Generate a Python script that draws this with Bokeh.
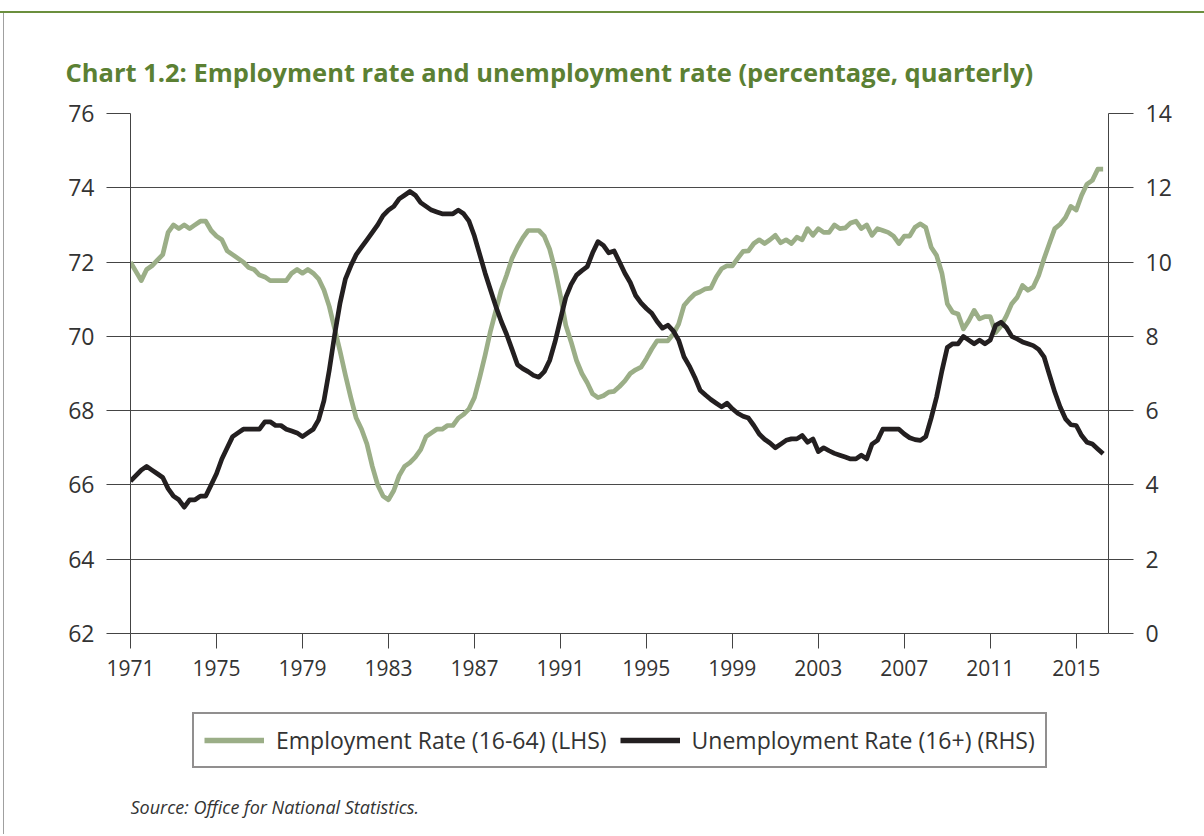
from bokeh.plotting import figure
from bokeh.layouts import column
from bokeh.models import (LinearAxis, Range1d, FixedTicker, Legend, LegendItem,
                          Label, ColumnDataSource)
from bokeh.embed import file_html
from bokeh.resources import INLINE

# ---------------- data (quarterly, 1971 Q1 onwards) ----------------
employment_rate = [
    72.0, 71.75, 71.5, 71.8,      # 1971
    71.9, 72.05, 72.2, 72.8,      # 1972
    73.0, 72.9, 73.0, 72.9,       # 1973
    73.0, 73.1, 73.1, 72.85,      # 1974
    72.7, 72.6, 72.3, 72.2,       # 1975
    72.1, 72.0, 71.85, 71.8,      # 1976
    71.65, 71.6, 71.5, 71.5,      # 1977
    71.5, 71.5, 71.7, 71.8,       # 1978
    71.7, 71.8, 71.7, 71.55,      # 1979
    71.25, 70.8, 70.2, 69.6,      # 1980
    68.95, 68.35, 67.8, 67.5,     # 1981
    67.1, 66.5, 66.0, 65.7,       # 1982
    65.6, 65.85, 66.25, 66.5,     # 1983
    66.6, 66.75, 66.95, 67.3,     # 1984
    67.4, 67.5, 67.5, 67.6,       # 1985
    67.6, 67.8, 67.9, 68.05,      # 1986
    68.35, 68.9, 69.5, 70.15,     # 1987
    70.7, 71.25, 71.65, 72.1,     # 1988
    72.4, 72.65, 72.85, 72.85,    # 1989
    72.85, 72.7, 72.35, 71.8,     # 1990
    71.1, 70.3, 69.85, 69.35,     # 1991
    69.0, 68.75, 68.45, 68.35,    # 1992
    68.4, 68.5, 68.52, 68.65,     # 1993
    68.8, 69.0, 69.1, 69.17,      # 1994
    69.4, 69.66, 69.88, 69.88,    # 1995
    69.88, 70.06, 70.33, 70.83,   # 1996
    71.0, 71.14, 71.2, 71.28,     # 1997
    71.3, 71.6, 71.82, 71.9,      # 1998
    71.9, 72.1, 72.29, 72.3,      # 1999
    72.5, 72.6, 72.5, 72.6,       # 2000
    72.72, 72.52, 72.6, 72.5,     # 2001
    72.67, 72.6, 72.9, 72.72,     # 2002
    72.9, 72.8, 72.8, 73.0,       # 2003
    72.9, 72.92, 73.05, 73.1,     # 2004
    72.9, 73.0, 72.72, 72.9,      # 2005
    72.85, 72.8, 72.7, 72.5,      # 2006
    72.7, 72.7, 72.94, 73.03,     # 2007
    72.93, 72.4, 72.18, 71.7,     # 2008
    70.88, 70.65, 70.6, 70.2,     # 2009
    70.42, 70.7, 70.47, 70.53,    # 2010
    70.53, 70.1, 70.28, 70.55,    # 2011
    70.88, 71.05, 71.37, 71.24,   # 2012
    71.33, 71.64, 72.09, 72.5,    # 2013
    72.9, 73.02, 73.2, 73.5,      # 2014
    73.4, 73.8, 74.1, 74.2,       # 2015
    74.5, 74.5,                   # 2016
]

unemployment_rate = [
    4.1, 4.25, 4.4, 4.5,          # 1971
    4.4, 4.3, 4.2, 3.9,           # 1972
    3.7, 3.6, 3.4, 3.6,           # 1973
    3.6, 3.7, 3.7, 4.0,           # 1974
    4.3, 4.7, 5.0, 5.3,           # 1975
    5.4, 5.5, 5.5, 5.5,           # 1976
    5.5, 5.7, 5.7, 5.6,           # 1977
    5.6, 5.5, 5.45, 5.4,          # 1978
    5.3, 5.4, 5.5, 5.75,          # 1979
    6.27, 7.1, 8.05, 8.9,         # 1980
    9.55, 9.9, 10.2, 10.4,        # 1981
    10.6, 10.8, 11.0, 11.25,      # 1982
    11.4, 11.5, 11.7, 11.8,       # 1983
    11.9, 11.8, 11.6, 11.5,       # 1984
    11.4, 11.35, 11.3, 11.3,      # 1985
    11.3, 11.4, 11.3, 11.1,       # 1986
    10.7, 10.2, 9.7, 9.25,        # 1987
    8.8, 8.4, 8.05, 7.65,         # 1988
    7.24, 7.13, 7.05, 6.95,       # 1989
    6.9, 7.05, 7.35, 7.85,        # 1990
    8.45, 9.05, 9.4, 9.65,        # 1991
    9.77, 9.88, 10.25, 10.55,     # 1992
    10.45, 10.25, 10.3, 10.0,     # 1993
    9.7, 9.45, 9.1, 8.9,          # 1994
    8.75, 8.62, 8.4, 8.22,        # 1995
    8.3, 8.15, 7.9, 7.45,         # 1996
    7.2, 6.9, 6.55, 6.42,         # 1997
    6.3, 6.2, 6.1, 6.2,           # 1998
    6.05, 5.93, 5.85, 5.8,        # 1999
    5.6, 5.37, 5.23, 5.13,        # 2000
    5.0, 5.1, 5.2, 5.24,          # 2001
    5.24, 5.33, 5.15, 5.24,       # 2002
    4.9, 5.0, 4.92, 4.85,         # 2003
    4.8, 4.75, 4.7, 4.7,          # 2004
    4.8, 4.7, 5.1, 5.2,           # 2005
    5.5, 5.5, 5.5, 5.5,           # 2006
    5.37, 5.27, 5.22, 5.2,        # 2007
    5.3, 5.8, 6.36, 7.07,         # 2008
    7.7, 7.8, 7.8, 8.0,           # 2009
    7.9, 7.8, 7.9, 7.8,           # 2010
    7.9, 8.3, 8.38, 8.24,         # 2011
    8.0, 7.93, 7.85, 7.8,         # 2012
    7.75, 7.65, 7.45, 6.97,       # 2013
    6.5, 6.1, 5.78, 5.62,         # 2014
    5.6, 5.33, 5.15, 5.1,         # 2015
    4.97, 4.84,                   # 2016
]

year_ticks = [1971, 1975, 1979, 1983, 1987, 1991, 1995, 1999, 2003, 2007, 2011, 2015]
lhs_ticks = [62, 64, 66, 68, 70, 72, 74, 76]
rhs_ticks = [0, 2, 4, 6, 8, 10, 12, 14]

title_text = "Chart 1.2: Employment rate and unemployment rate (percentage, quarterly)"
emp_label = "Employment Rate (16-64) (LHS)"
unemp_label = "Unemployment Rate (16+) (RHS)"
source_text = "Source: Office for National Statistics."

# quarter positions on a decimal-year axis
first_year = 1971
quarters = [first_year + i / 4 for i in range(len(employment_rate))]

src = ColumnDataSource(dict(x=quarters, emp=employment_rate, unemp=unemployment_rate))

FONT = "Open Sans"
GREEN = "#9bae87"
BLACK = "#231f20"
TITLE_GREEN = "#5b8033"
TEXT = "#333333"
AXIS = "#444444"

W = 1204
H1 = 700          # chart part
H2 = 134          # legend + source part
FRAME_L, FRAME_R = 130, 1108

p = figure(width=W, height=H1, output_backend="svg", toolbar_location=None,
           x_range=Range1d(1971, 2016.5), y_range=Range1d(62, 76),
           min_border_left=FRAME_L, min_border_right=W - FRAME_R, min_border_top=113,
           min_border_bottom=H1 - 633)
p.extra_y_ranges = {"rhs": Range1d(0, 14)}
p.border_fill_alpha = 0
p.background_fill_color = "white"
p.outline_line_color = None
p.styles = {
    "background-image": "linear-gradient(#6b8f3e, #6b8f3e), linear-gradient(#a0a0a0, #a0a0a0)",
    "background-size": "100% 2px, 1px 100%",
    "background-position": "0 11px, 3px 12px",
    "background-repeat": "no-repeat",
}

# title
p.title.text = title_text
p.title.align = "left"
p.title.offset = -65
p.title.text_font = FONT
p.title.text_font_size = "25.5px"
p.title.text_font_style = "bold"
p.title.text_color = TITLE_GREEN
p.title.standoff = 49

# axes
xa = p.xaxis[0]
xa.ticker = FixedTicker(ticks=year_ticks)
xa.major_tick_out = 15
xa.major_tick_in = 0
xa.minor_tick_line_color = None
xa.axis_line_color = AXIS
xa.major_tick_line_color = AXIS
xa.major_label_text_font = FONT
xa.major_label_text_font_size = "21px"
xa.major_label_text_color = TEXT
xa.major_label_standoff = 11

ya = p.yaxis[0]
ya.ticker = FixedTicker(ticks=lhs_ticks)
ya.major_tick_out = 24
ya.major_tick_in = 0
ya.minor_tick_line_color = None
ya.axis_line_color = AXIS
ya.major_tick_line_color = AXIS
ya.major_label_text_font = FONT
ya.major_label_text_font_size = "23px"
ya.major_label_text_color = TEXT
ya.major_label_standoff = 12

ra = LinearAxis(y_range_name="rhs", ticker=FixedTicker(ticks=rhs_ticks))
ra.major_tick_out = 25
ra.major_tick_in = 0
ra.minor_tick_line_color = None
ra.axis_line_color = AXIS
ra.major_tick_line_color = AXIS
ra.major_label_text_font = FONT
ra.major_label_text_font_size = "23px"
ra.major_label_text_color = TEXT
ra.major_label_standoff = 12
p.add_layout(ra, "right")

p.xgrid.grid_line_color = None
p.ygrid.ticker = FixedTicker(ticks=lhs_ticks)
p.ygrid.grid_line_color = "#4a4a4a"
p.ygrid.grid_line_width = 1

p.line("x", "emp", source=src, line_color=GREEN, line_width=4.7, line_join="round")
p.line("x", "unemp", source=src, y_range_name="rhs", line_color=BLACK,
       line_width=4.7, line_join="round")

# ---------------- legend + source strip ----------------
p2 = figure(width=W, height=H2, output_backend="svg", toolbar_location=None,
            x_range=Range1d(0, 1), y_range=Range1d(0, 1),
            x_axis_type=None, y_axis_type=None,
            min_border_left=FRAME_L, min_border_right=W - FRAME_R, min_border_top=0,
            min_border_bottom=0)
p2.border_fill_alpha = 0
p2.background_fill_alpha = 0
p2.outline_line_color = None
p2.styles = {
    "background-image": "linear-gradient(#a0a0a0, #a0a0a0)",
    "background-size": "1px 100%",
    "background-position": "3px 0",
    "background-repeat": "no-repeat",
}

# legend-key renderers (no visible data, only their styling is used by the legend)
nan = float("nan")
lg_emp = p2.line(x=[nan], y=[nan], line_color=GREEN, line_width=5.5)
lg_unemp = p2.line(x=[nan], y=[nan], line_color=BLACK, line_width=5.5)

legend = Legend(items=[LegendItem(label=emp_label, renderers=[lg_emp]),
                       LegendItem(label=unemp_label, renderers=[lg_unemp])],
                orientation="horizontal", location=(192 - FRAME_L, H2 - 68),
                border_line_color=BLACK, border_line_width=2,
                background_fill_color="white",
                label_text_font=FONT, label_text_font_size="23px",
                label_text_color=TEXT, glyph_width=60, glyph_height=26,
                spacing=13, padding=10, label_standoff=12, margin=0)
p2.add_layout(legend, "center")

source_label = Label(x=0, y=H2 - 106, x_units="screen", y_units="screen",
                     text=source_text, text_font=FONT, text_font_size="18px",
                     text_font_style="italic", text_color=TEXT,
                     text_baseline="middle", text_align="left")
p2.add_layout(source_label)

layout = column(p, p2, spacing=0)
open("out.html", "w").write(file_html(layout, INLINE))
